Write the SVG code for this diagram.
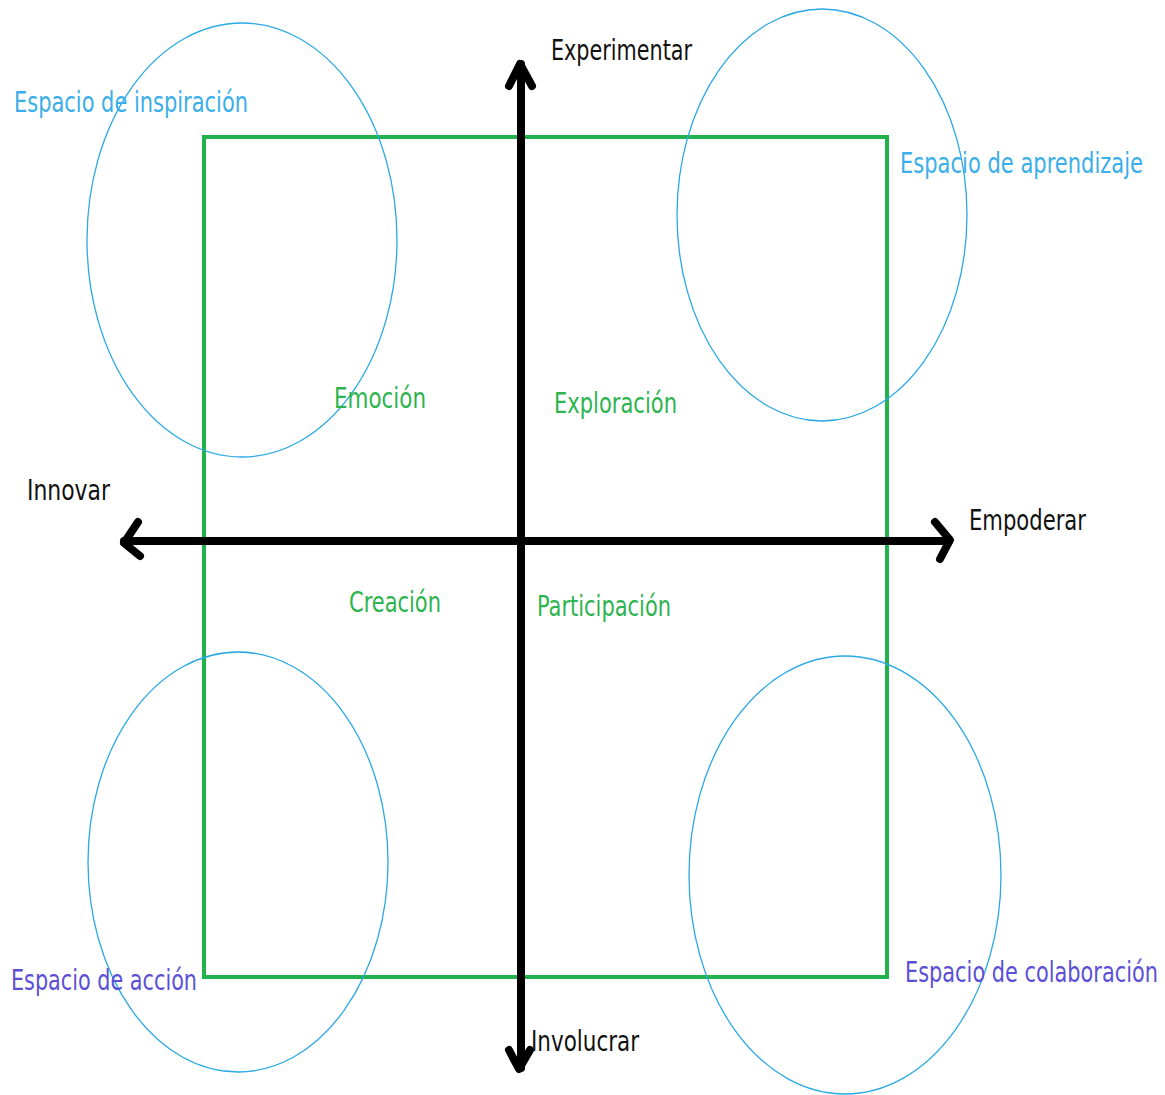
<svg xmlns="http://www.w3.org/2000/svg" width="1165" height="1095" viewBox="0 0 1165 1095">
<style>
text{font-family:"DejaVu Sans Condensed","Liberation Sans",sans-serif;font-size:20px}
.blue{fill:#3aaee8}
.purple{fill:#5b4fd6}
.green{fill:#2db34f}
.black{fill:#111}
.ell{fill:none;stroke:#2aa9e4;stroke-width:1.3}
.axis{fill:none;stroke:#000;stroke-width:8;stroke-linecap:round;stroke-linejoin:round}
</style>
<rect width="1165" height="1095" fill="#fff"/>
<g id="frame"><rect x="204" y="137" width="683" height="840" fill="none" stroke="#22b14c" stroke-width="4"/></g>
<g id="spaces">
<ellipse class="ell" cx="242" cy="240" rx="155" ry="217"/>
<ellipse class="ell" cx="822" cy="215" rx="145" ry="206"/>
<ellipse class="ell" cx="238" cy="862" rx="150" ry="210"/>
<ellipse class="ell" cx="845" cy="875" rx="156" ry="219"/>
</g>
<g id="connectors">
<path class="axis" d="M521 64 V1068"/>
<path class="axis" d="M509 86 L520 64 L532 86"/>
<path class="axis" d="M509 1050 L519 1069 L530 1050"/>
<path class="axis" d="M124 541 H949"/>
<path class="axis" d="M138 522 L124 543 L140 556"/>
<path class="axis" d="M935 522 L950 540 L940 559"/>
</g>
<g id="labels">
<text class="blue" transform="translate(14 112) scale(1 1.45)" textLength="234" lengthAdjust="spacingAndGlyphs">Espacio de inspiración</text>
<text class="black" transform="translate(551 60) scale(1 1.45)" textLength="141" lengthAdjust="spacingAndGlyphs">Experimentar</text>
<text class="blue" transform="translate(900 173) scale(1 1.45)" textLength="243" lengthAdjust="spacingAndGlyphs">Espacio de aprendizaje</text>
<text class="green" transform="translate(334 408) scale(1 1.45)" textLength="92" lengthAdjust="spacingAndGlyphs">Emoción</text>
<text class="green" transform="translate(554 413) scale(1 1.45)" textLength="123" lengthAdjust="spacingAndGlyphs">Exploración</text>
<text class="black" transform="translate(27 500) scale(1 1.45)" textLength="83" lengthAdjust="spacingAndGlyphs">Innovar</text>
<text class="black" transform="translate(969 530) scale(1 1.45)" textLength="117" lengthAdjust="spacingAndGlyphs">Empoderar</text>
<text class="green" transform="translate(349 612) scale(1 1.45)" textLength="92" lengthAdjust="spacingAndGlyphs">Creación</text>
<text class="green" transform="translate(537 616) scale(1 1.45)" textLength="134" lengthAdjust="spacingAndGlyphs">Participación</text>
<text class="purple" transform="translate(11 990) scale(1 1.45)" textLength="186" lengthAdjust="spacingAndGlyphs">Espacio de acción</text>
<text class="purple" transform="translate(905 982) scale(1 1.45)" textLength="253" lengthAdjust="spacingAndGlyphs">Espacio de colaboración</text>
<text class="black" transform="translate(531 1051) scale(1 1.45)" textLength="108" lengthAdjust="spacingAndGlyphs">Involucrar</text>
</g>
</svg>
